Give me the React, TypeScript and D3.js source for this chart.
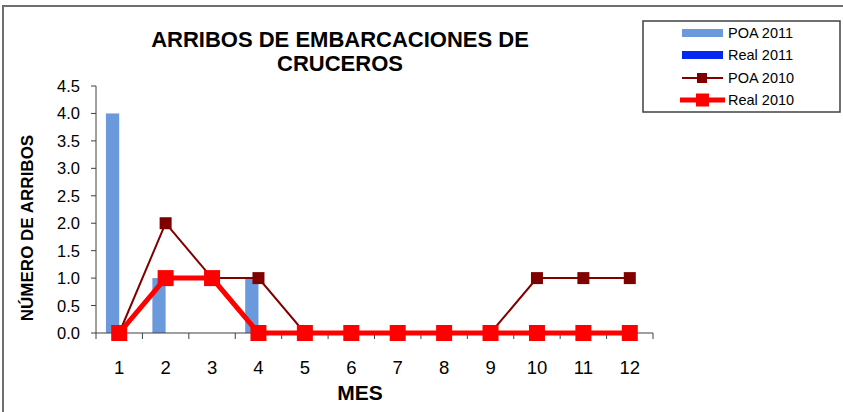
import React from "react";
import * as d3 from "d3";

const months = ["1", "2", "3", "4", "5", "6", "7", "8", "9", "10", "11", "12"];
const poa2011 = [4, 1, 0, 1, 0, 0, 0, 0, 0, 0, 0, 0];
const real2011 = [0, 0, 0, 0, 0, 0, 0, 0, 0, 0, 0, 0];
const poa2010 = [0, 2, 1, 1, 0, 0, 0, 0, 0, 1, 1, 1];
const real2010 = [0, 1, 1, 0, 0, 0, 0, 0, 0, 0, 0, 0];
const yTicks = [0, 0.5, 1, 1.5, 2, 2.5, 3, 3.5, 4, 4.5];
const barSeries = ["POA 2011", "Real 2011"];
const lineSeries = ["POA 2010", "Real 2010"];
const titleLines = ["ARRIBOS DE EMBARCACIONES DE", "CRUCEROS"];

const W = 843;
const H = 412;
const FONT = "Arial, 'Liberation Sans', sans-serif";

export default function App() {
  const left = 96, right = 653, top = 86, bottom = 333;
  const x = d3.scaleBand<string>().domain(months).range([left, right]).paddingInner(0).paddingOuter(0);
  const y = d3.scaleLinear().domain([0, 4.5]).range([bottom, top]);
  const step = x.step();
  const barW = step / 3.5;
  const sub = d3.scaleBand<string>().domain(barSeries).range([0, barW * 2]);
  const barColors = ["#6A9ADC", "#0528F0"];
  const barData = [poa2011, real2011];
  const cx = (m: string) => (x(m) as number) + step / 2;
  const line = (vals: number[]) =>
    d3.line<number>().x((_, i) => cx(months[i])).y((v) => y(v))(vals) as string;

  const boundaries = d3.range(months.length + 1).map((i) => left + i * step);

  const legendY = [33, 55, 78, 100];

  return (
    <svg width={W} height={H} style={{ position: "absolute", left: 0, top: 0, background: "#fff" }} fontFamily={FONT}>
      <rect x={3} y={6} width={900} height={500} fill="#fff" stroke="#6e6e6e" strokeWidth={2} />

      {/* Title */}
      {titleLines.map((t, i) => (
        <text key={t} x={340} y={39 + i * 24} textAnchor="middle" dominantBaseline="central" fontWeight="bold" fontSize={22} fill="#000">
          {t}
        </text>
      ))}

      {/* Bars */}
      {barData.map((vals, s) =>
        vals.map((v, i) => (
          <rect
            key={`${s}-${i}`}
            x={cx(months[i]) - barW + (sub(barSeries[s]) as number)}
            y={y(v)}
            width={sub.bandwidth()}
            height={bottom - y(v)}
            fill={barColors[s]}
          />
        ))
      )}

      {/* Y axis */}
      <line x1={left} x2={left} y1={top} y2={bottom} stroke="#404040" strokeWidth={1} />
      {yTicks.map((t) => (
        <g key={t}>
          <line x1={left - 5} x2={left} y1={y(t)} y2={y(t)} stroke="#404040" strokeWidth={1} />
          <text x={80} y={y(t)} textAnchor="end" dominantBaseline="central" fontSize={16.5} fill="#000">
            {t.toFixed(1)}
          </text>
        </g>
      ))}

      {/* X axis */}
      <line x1={left} x2={right} y1={bottom} y2={bottom} stroke="#404040" strokeWidth={1} />
      {boundaries.map((b, i) => (
        <line key={i} x1={b} x2={b} y1={bottom} y2={bottom + 6} stroke="#404040" strokeWidth={1} />
      ))}
      {months.map((m) => (
        <text key={m} x={cx(m)} y={367} textAnchor="middle" dominantBaseline="central" fontSize={18.5} fill="#000">
          {m}
        </text>
      ))}

      {/* Axis titles */}
      <text x={360} y={392} textAnchor="middle" dominantBaseline="central" fontWeight="bold" fontSize={21} fill="#000">
        MES
      </text>
      <text
        transform={`translate(27,${(134 + 322) / 2}) rotate(-90)`}
        textAnchor="middle"
        dominantBaseline="central"
        fontWeight="bold"
        fontSize={17}
        fill="#000"
      >
        NÚMERO DE ARRIBOS
      </text>

      {/* POA 2010 line */}
      <path d={line(poa2010)} fill="none" stroke="#800000" strokeWidth={2} />
      {poa2010.map((v, i) => (
        <rect key={`p${i}`} x={cx(months[i]) - 6} y={y(v) - 6} width={12} height={12} fill="#800000" />
      ))}

      {/* Real 2010 line */}
      <path d={line(real2010)} fill="none" stroke="#FF0000" strokeWidth={5} />
      {real2010.map((v, i) => (
        <rect key={`r${i}`} x={cx(months[i]) - 8} y={y(v) - 8} width={16} height={16} fill="#FF0000" />
      ))}

      {/* Legend */}
      <rect x={643} y={21} width={197} height={91} fill="#fff" stroke="#404040" strokeWidth={1.5} />
      {barSeries.map((s, i) => (
        <g key={s}>
          <rect x={682} y={legendY[i] - 4} width={41} height={8} fill={barColors[i]} />
          <text x={728} y={legendY[i]} dominantBaseline="central" fontSize={14.5} fill="#000">{s}</text>
        </g>
      ))}
      <g>
        <line x1={682} x2={723} y1={legendY[2]} y2={legendY[2]} stroke="#800000" strokeWidth={2} />
        <rect x={697} y={legendY[2] - 5} width={10} height={10} fill="#800000" />
        <text x={728} y={legendY[2]} dominantBaseline="central" fontSize={14.5} fill="#000">{lineSeries[0]}</text>
      </g>
      <g>
        <line x1={680} x2={725} y1={legendY[3]} y2={legendY[3]} stroke="#FF0000" strokeWidth={5} />
        <rect x={696} y={legendY[3] - 6.5} width={13} height={13} fill="#FF0000" />
        <text x={728} y={legendY[3]} dominantBaseline="central" fontSize={14.5} fill="#000">{lineSeries[1]}</text>
      </g>
    </svg>
  );
}
